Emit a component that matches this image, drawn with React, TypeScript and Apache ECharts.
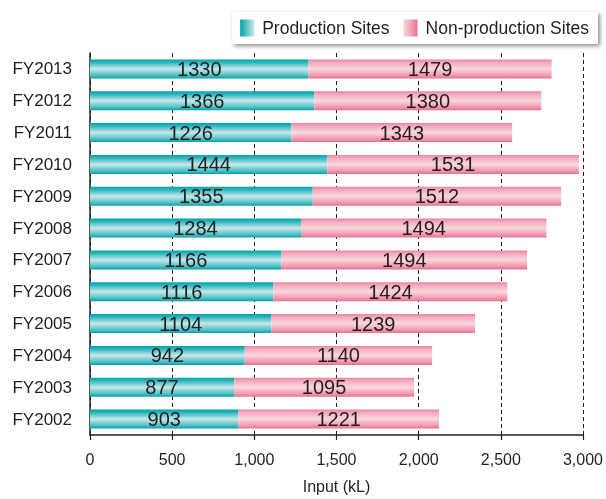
import React, { useEffect, useRef } from "react";
import * as echarts from "echarts";

const categories = ["FY2002", "FY2003", "FY2004", "FY2005", "FY2006", "FY2007", "FY2008", "FY2009", "FY2010", "FY2011", "FY2012", "FY2013"];
const productionSites = [903, 877, 942, 1104, 1116, 1166, 1284, 1355, 1444, 1226, 1366, 1330];
const nonProductionSites = [1221, 1095, 1140, 1239, 1424, 1494, 1494, 1512, 1531, 1343, 1380, 1479];
const xTicks = [0, 500, 1000, 1500, 2000, 2500, 3000];

const FONT = "Liberation Sans";
const TEXT = "#231f20";

export default function App() {
  const ref = useRef<HTMLDivElement>(null);
  useEffect(() => {
    if (!ref.current) return;
    const chart = echarts.init(ref.current, undefined, { renderer: "svg" });
    const tealV = new echarts.graphic.LinearGradient(0, 0, 0, 1, [
      { offset: 0, color: "#00a3ab" },
      { offset: 0.15, color: "#2ab4bb" },
      { offset: 0.5, color: "#c6e8ea" },
      { offset: 0.85, color: "#4abec4" },
      { offset: 1, color: "#00a0a8" },
    ]);
    const pinkV = new echarts.graphic.LinearGradient(0, 0, 0, 1, [
      { offset: 0, color: "#ea849d" },
      { offset: 0.15, color: "#f3a9ba" },
      { offset: 0.5, color: "#fbd6de" },
      { offset: 0.85, color: "#f097ad" },
      { offset: 1, color: "#e76f8c" },
    ]);
    const tealH = new echarts.graphic.LinearGradient(0, 0, 1, 0, [
      { offset: 0, color: "#00a5ad" },
      { offset: 1, color: "#c6e8ea" },
    ]);
    const pinkH = new echarts.graphic.LinearGradient(0, 0, 1, 0, [
      { offset: 0, color: "#fbd6de" },
      { offset: 1, color: "#e8728f" },
    ]);
    const labelStyle = {
      show: true,
      position: "inside" as const,
      color: TEXT,
      fontSize: 20,
      fontFamily: FONT,
    };
    chart.setOption({
      animation: false,
      textStyle: { fontFamily: FONT },
      legend: {
        top: 12,
        right: 8,
        icon: "rect",
        padding: [7, 9, 7, 8],
        itemWidth: 14,
        itemHeight: 17,
        itemGap: 14,
        backgroundColor: "#ffffff",
        shadowBlur: 4,
        shadowOffsetX: 2,
        shadowOffsetY: 2,
        shadowColor: "rgba(0,0,0,0.45)",
        textStyle: { color: TEXT, fontSize: 17.5, fontFamily: FONT, padding: [0, 0, 0, 3] },
        data: [
          { name: "Production Sites", itemStyle: { color: tealH } },
          { name: "Non-production Sites", itemStyle: { color: pinkH } },
        ],
      },
      grid: { left: 90, right: 22, top: 53, bottom: 59 },
      xAxis: {
        type: "value",
        min: xTicks[0],
        max: xTicks[xTicks.length - 1],
        interval: 500,
        name: "Input (kL)",
        nameLocation: "middle",
        nameGap: 43,
        nameTextStyle: { color: TEXT, fontSize: 16, fontFamily: FONT },
        axisLine: { show: true, lineStyle: { color: "#231f20", width: 1.5 } },
        axisTick: { show: true, length: 5, lineStyle: { color: "#231f20", width: 1.2 } },
        axisLabel: {
          color: TEXT,
          fontSize: 16,
          fontFamily: FONT,
          margin: 16,
          formatter: (v: number) => v.toLocaleString("en-US"),
        },
        splitLine: { show: true, lineStyle: { color: "#231f20", type: [4, 3], width: 1 } },
      },
      yAxis: {
        type: "category",
        data: categories,
        axisLine: { show: true, lineStyle: { color: "#231f20", width: 1.5 } },
        axisTick: { show: false },
        axisLabel: { color: TEXT, fontSize: 17, fontFamily: FONT, margin: 18 },
      },
      series: [
        {
          name: "Production Sites",
          type: "bar",
          stack: "total",
          barWidth: 19,
          data: productionSites,
          itemStyle: { color: tealV },
          label: labelStyle,
        },
        {
          name: "Non-production Sites",
          type: "bar",
          stack: "total",
          barWidth: 19,
          data: nonProductionSites,
          itemStyle: { color: pinkV },
          label: labelStyle,
        },
      ],
    });
    return () => chart.dispose();
  }, []);
  return <div ref={ref} style={{ position: "fixed", left: 0, top: 0, width: 606, height: 499 }} />;
}
